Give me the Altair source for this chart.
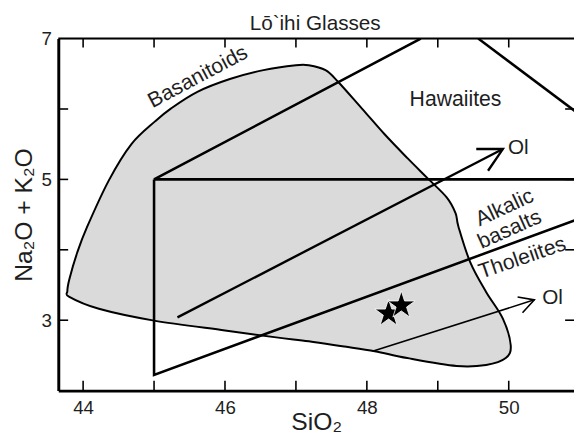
import altair as alt
import pandas as pd

FONT = "Liberation Sans"
INK = "#1e1e1e"
W, H = 523, 357

# ---- data ----
# outline of the Lō`ihi glass field: upper edge (left -> right), then lower edge (right -> left)
blob_x = [43.778, 43.806, 43.917, 44.056, 44.361, 44.681, 45.014, 45.236, 45.611, 46.069,
          46.542, 47.0, 47.181, 47.417, 47.597, 47.931, 48.25, 48.569, 48.847, 49.125,
          49.25, 49.292, 49.458, 49.681, 49.917, 50.028,
          49.958, 49.681, 49.264, 48.569, 48.111, 47.653, 47.181, 46.722, 46.0, 45.0,
          44.222, 43.806]
blob_y = [3.415, 3.583, 3.961, 4.325, 4.983, 5.501, 5.824, 6.006, 6.244, 6.426,
          6.552, 6.622, 6.622, 6.552, 6.384, 6.006, 5.641, 5.305, 5.025, 4.745,
          4.521, 4.325, 3.821, 3.401, 3.022, 2.644,
          2.462, 2.364, 2.35, 2.462, 2.56, 2.63, 2.7, 2.756, 2.854, 2.994,
          3.162, 3.331]

# field boundary lines (segment id, x, y)
line_seg = ["a", "a", "a", "b", "b", "b", "c", "c"]
line_x = [45.0, 45.0, 51.0, 51.0, 45.0, 48.76, 49.57, 51.0]
line_y = [5.0, 2.224, 4.444, 5.0, 5.0, 7.0, 7.0, 5.92]

# olivine control arrows (segment id, x, y)
arrow1_seg = ["s", "s", "h", "h", "h"]
arrow1_x = [45.33, 49.917, 49.542, 49.917, 49.708]
arrow1_y = [3.04, 5.431, 5.431, 5.431, 5.123]
arrow2_seg = ["s", "s", "h", "h", "h"]
arrow2_x = [48.08, 50.361, 50.125, 50.361, 50.194]
arrow2_y = [2.56, 3.289, 3.33, 3.289, 3.106]

# sample points (stars)
star_x = [48.306, 48.486]
star_y = [3.095, 3.21]

# field labels
lab_text = ["Basanitoids", "Hawaiites", "Alkalic", "basalts", "Tholeiites"]
lab_x = [45.62, 49.25, 49.944, 50.014, 50.194]
lab_y = [6.45, 6.132, 4.591, 4.283, 3.877]
lab_angle = [332, 0, 335, 336, 341]

ol_text = ["Ol", "Ol"]
ol_x = [49.99, 50.472]
ol_y = [5.445, 3.317]

x_tick_vals = [44, 45, 46, 47, 48, 49, 50]
y_tick_vals = [3, 4, 5, 6]
x_label_vals = [44, 46, 48, 50]
y_label_vals = [3, 5, 7]

title_text = "Lō`ihi Glasses"

# ---- scales / axes ----
xs = alt.Scale(domain=[43.65, 50.92], nice=False, zero=False)
ys = alt.Scale(domain=[2, 7], nice=False, zero=False)

x_axis = alt.Axis(values=x_label_vals, title="SiO₂", ticks=False, tickSize=0, grid=False,
                  domain=True, domainWidth=3, domainColor="black",
                  labelFont=FONT, labelFontSize=19, labelColor=INK, labelPadding=8,
                  titleFont=FONT, titleFontSize=25, titleFontWeight="normal", titleColor=INK,
                  titleX=W / 2, titleY=39, titleBaseline="alphabetic", titleAlign="center")
y_axis = alt.Axis(values=y_label_vals, title="Na₂O + K₂O", ticks=False, tickSize=0, grid=False,
                  domain=True, domainWidth=3, domainColor="black",
                  labelFont=FONT, labelFontSize=19, labelColor=INK, labelPadding=7,
                  titleFont=FONT, titleFontSize=25, titleFontWeight="normal", titleColor=INK,
                  titleX=-27, titleY=H / 2, titleAngle=270, titleBaseline="alphabetic",
                  titleAlign="center")


def X():
    return alt.X("x:Q", scale=xs, axis=x_axis)


def Y():
    return alt.Y("y:Q", scale=ys, axis=y_axis)


blob_df = pd.DataFrame({"x": blob_x, "y": blob_y, "i": list(range(len(blob_x)))})
lines_df = pd.DataFrame({"seg": line_seg, "x": line_x, "y": line_y,
                         "i": list(range(len(line_x)))})
a1_df = pd.DataFrame({"seg": arrow1_seg, "x": arrow1_x, "y": arrow1_y,
                      "i": list(range(len(arrow1_x)))})
a2_df = pd.DataFrame({"seg": arrow2_seg, "x": arrow2_x, "y": arrow2_y,
                      "i": list(range(len(arrow2_x)))})
star_df = pd.DataFrame({"x": star_x, "y": star_y})
lab_df = pd.DataFrame({"t": lab_text, "x": lab_x, "y": lab_y, "a": lab_angle})
ol_df = pd.DataFrame({"t": ol_text, "x": ol_x, "y": ol_y})
xt_df = pd.DataFrame({"x": x_tick_vals})
yt_df = pd.DataFrame({"y": y_tick_vals})

blob = alt.Chart(blob_df).mark_line(
    interpolate="cardinal-closed", fill="#dadada", stroke="black", strokeWidth=2
).encode(x=X(), y=Y(), order="i:Q")

fields = alt.Chart(lines_df).mark_line(color="black", strokeWidth=2.6, clip=True).encode(
    x=X(), y=Y(), detail="seg:N", order="i:Q")

arrow1 = alt.Chart(a1_df).mark_line(color="black", strokeWidth=2.4, clip=True).encode(
    x=X(), y=Y(), detail="seg:N", order="i:Q")
arrow2 = alt.Chart(a2_df).mark_line(color="black", strokeWidth=1.6, clip=True).encode(
    x=X(), y=Y(), detail="seg:N", order="i:Q")

STAR = ("M0,-1L0.2245,-0.309L0.951,-0.309L0.363,0.118L0.588,0.809L0,0.382"
        "L-0.588,0.809L-0.363,0.118L-0.951,-0.309L-0.2245,-0.309Z")
stars = alt.Chart(star_df).mark_point(
    shape=STAR, size=850, filled=True, fill="black", stroke="white", strokeWidth=0.8, opacity=1
).encode(x=X(), y=Y())

labels = alt.Chart(lab_df).mark_text(
    font=FONT, fontSize=21.5, color=INK, baseline="middle", align="center"
).encode(x=X(), y=Y(), text="t:N", angle=alt.Angle("a:Q", scale=None))

ol_labels = alt.Chart(ol_df).mark_text(
    font=FONT, fontSize=21, color=INK, baseline="middle", align="left"
).encode(x=X(), y=Y(), text="t:N")

title = alt.Chart(pd.DataFrame({"t": [title_text]})).mark_text(
    font=FONT, fontSize=21, color=INK, baseline="alphabetic", align="center"
).encode(text="t:N", x=alt.value(W / 2 - 1), y=alt.value(-9))

top_line = alt.Chart(pd.DataFrame({"y": [7]})).mark_rule(color="black", strokeWidth=2).encode(y=Y())

top_ticks = alt.Chart(xt_df).mark_rule(color="black", strokeWidth=1.6).encode(
    x=X(), y=alt.value(0), y2=alt.value(9))
bottom_ticks = alt.Chart(xt_df).mark_rule(color="black", strokeWidth=1.6).encode(
    x=X(), y=alt.value(H - 10), y2=alt.value(H))
left_ticks = alt.Chart(yt_df).mark_rule(color="black", strokeWidth=1.6).encode(
    y=Y(), x=alt.value(0), x2=alt.value(10))
right_ticks = alt.Chart(yt_df).mark_rule(color="black", strokeWidth=1.6).encode(
    y=Y(), x=alt.value(W - 9), x2=alt.value(W))

chart = alt.layer(
    blob, fields, arrow1, arrow2, stars, labels, ol_labels, title,
    top_line, top_ticks, bottom_ticks, left_ticks, right_ticks
).properties(
    width=W, height=H,
    autosize=alt.AutoSizeParams(type="none"),
    padding={"left": 51, "top": 28, "right": 0, "bottom": 43},
).configure_view(stroke=None).configure(background="white")

chart.save("out.html", embed_options={"renderer": "svg", "actions": False})
